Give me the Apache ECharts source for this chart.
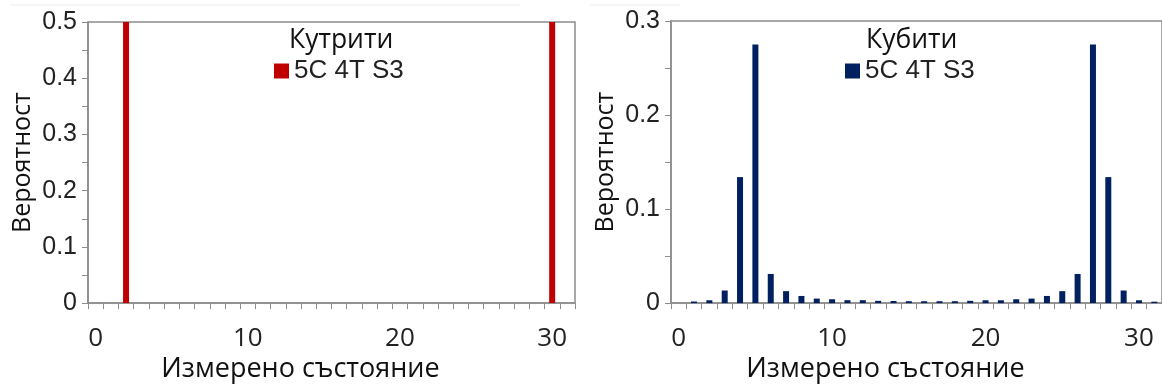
<!DOCTYPE html>
<html>
<head>
<meta charset="utf-8">
<script src="https://cdn.jsdelivr.net/npm/echarts@6/dist/echarts.min.js"></script>
<style>html,body{margin:0;padding:0;background:#fff}#c{width:1162px;height:388px}</style>
</head>
<body>
<div id="c"></div>
<script>
// ---- data ----
const states = Array.from({length: 32}, (_, i) => String(i));
const qutritValues = [0,0,0.5,0,0,0,0,0,0,0,0,0,0,0,0,0,0,0,0,0,0,0,0,0,0,0,0,0,0,0,0.5,0];
const qubitValues = [0,0.0017,0.003,0.0134,0.134,0.275,0.031,0.0127,0.0076,0.0048,0.0041,0.0031,0.0031,0.0024,0.0022,0.002,
                     0.002,0.002,0.002,0.0024,0.003,0.003,0.0041,0.0048,0.0076,0.0127,0.031,0.275,0.134,0.0134,0.003,0.0015];
const leftTitle = 'Кутрити';
const rightTitle = 'Кубити';
const seriesName = '5C 4T S3';
const xName = 'Измерено състояние';
const yName = 'Вероятност';

const chart = echarts.init(document.getElementById('c'));
const axisGray = '#8c8c8c';
const humanist = '"Open Sans", "Noto Sans", sans-serif';
const arial = '"Liberation Sans", Arial, sans-serif';

function xAxis(gi) {
  return {
    type: 'category', gridIndex: gi, data: states,
    axisLine: {lineStyle: {color: axisGray, width: 1.5}},
    axisTick: {show: true, interval: 0, length: 6, lineStyle: {color: axisGray}},
    axisLabel: {interval: 9, margin: 22, fontFamily: humanist, fontSize: 26, color: '#222'},
    name: xName, nameLocation: 'middle', nameGap: 42,
    nameTextStyle: {fontFamily: humanist, fontSize: 27, color: '#111', padding: [0, 62, 0, 0]}
  };
}
function yAxis(gi, max) {
  return {
    type: 'value', gridIndex: gi, min: 0, max: max, interval: 0.1,
    axisLine: {show: true, lineStyle: {color: axisGray, width: 1.5}},
    axisTick: {show: true, length: 6, lineStyle: {color: axisGray}},
    minorTick: {show: true, splitNumber: 2, length: 6, lineStyle: {color: axisGray}},
    splitLine: {show: false},
    axisLabel: {margin: 11, fontFamily: arial, fontSize: 25, color: '#222',
      formatter: v => v === 0 ? '0' : v.toFixed(1)},
    name: yName, nameLocation: 'middle', nameGap: 53,
    nameTextStyle: {fontFamily: humanist, fontSize: 25, color: '#111'}
  };
}

const titleStyle = {fontFamily: humanist, fontSize: 26.5, fontWeight: 'normal', color: '#111'};
const legendText = {fontFamily: arial, fontSize: 26, color: '#222'};

chart.setOption({
  animation: false,
  backgroundColor: '#fff',
  title: [
    {text: leftTitle, left: 284, top: 22, textStyle: titleStyle},
    {text: rightTitle, left: 861, top: 22, textStyle: titleStyle}
  ],
  legend: [
    {data: ['q1'], left: 274, top: 58, padding: 0, icon: 'rect', itemWidth: 15, itemHeight: 15, itemGap: 5,
     formatter: () => seriesName, textStyle: legendText},
    {data: ['q2'], left: 845, top: 58, padding: 0, icon: 'rect', itemWidth: 15, itemHeight: 15, itemGap: 5,
     formatter: () => seriesName, textStyle: legendText}
  ],
  grid: [
    {left: 88, top: 22, width: 487, height: 288, show: true, borderColor: axisGray, borderWidth: 1.5, backgroundColor: 'transparent'},
    {left: 671, top: 21, width: 492, height: 290, show: true, borderColor: axisGray, borderWidth: 1.5, backgroundColor: 'transparent'}
  ],
  xAxis: [xAxis(0), xAxis(1)],
  yAxis: [yAxis(0, 0.5), yAxis(1, 0.3)],
  series: [
    {name: 'q1', type: 'bar', xAxisIndex: 0, yAxisIndex: 0, data: qutritValues, barWidth: 6, itemStyle: {color: '#c00000'}},
    {name: 'q2', type: 'bar', xAxisIndex: 1, yAxisIndex: 1, data: qubitValues, barWidth: 6, itemStyle: {color: '#002060'}}
  ],
  graphic: [
    {type: 'line', shape: {x1: 10, y1: 5, x2: 520, y2: 5}, style: {stroke: '#eeeeee', lineWidth: 1}},
    {type: 'line', shape: {x1: 590, y1: 5, x2: 680, y2: 5}, style: {stroke: '#eeeeee', lineWidth: 1}}
  ]
});
</script>
</body>
</html>
